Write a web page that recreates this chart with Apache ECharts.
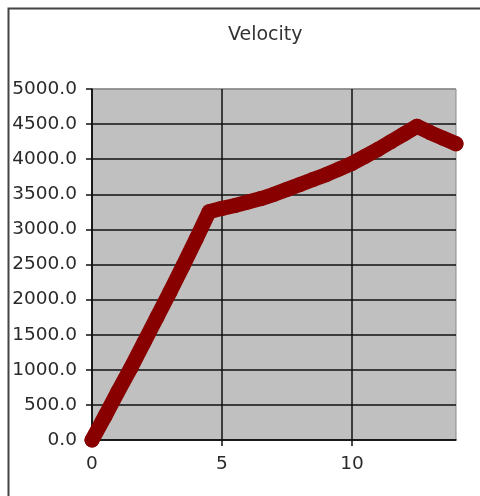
<!DOCTYPE html>
<html>
<head>
<meta charset="utf-8">
<script src="https://cdn.jsdelivr.net/npm/echarts@6/dist/echarts.min.js"></script>
<style>
html,body{margin:0;padding:0;background:#fff;}
#c{width:480px;height:496px;}
</style>
</head>
<body>
<div id="c"></div>
<script>
var title = 'Velocity';
var times = [0, 0.5, 1, 1.5, 2, 2.5, 3, 3.5, 4, 4.5, 5, 5.5, 6, 6.5, 7, 7.5, 8, 8.5, 9, 9.5, 10, 10.5, 11, 11.5, 12, 12.5, 13, 13.5, 14];
var velocity = [0, 340, 690, 1030, 1390, 1750, 2110, 2480, 2860, 3250, 3300, 3340, 3390, 3440, 3500, 3570, 3640, 3710, 3780, 3860, 3940, 4040, 4140, 4250, 4360, 4470, 4380, 4300, 4220];
var xTicks = [0, 5, 10];
var yMin = 0, yMax = 5000, yStep = 500;
var xMin = 0, xMax = 14;

var pts = times.map(function (t, i) { return [t, velocity[i]]; });
var FONT = 'DejaVu Sans';
var ySplitColors = [];
for (var v = yMin; v <= yMax; v += yStep) ySplitColors.push(v === yMax ? '#8a8a8a' : '#111');

var chart = echarts.init(document.getElementById('c'), null, {renderer: 'canvas'});
chart.setOption({
  backgroundColor: '#fff',
  animation: false,
  title: {
    text: title, left: 223, top: 21,
    textStyle: {fontFamily: FONT, fontSize: 19, fontWeight: 'normal', color: '#333'}
  },
  graphic: [{
    type: 'rect', left: 6, top: 6, z: -10,
    shape: {width: 600, height: 600},
    style: {fill: 'none', stroke: '#444', lineWidth: 2}
  }],
  grid: {
    left: 92, right: 24, top: 89, bottom: 56,
    show: true, backgroundColor: '#c0c0c0', borderColor: '#8a8a8a', borderWidth: 1
  },
  xAxis: {
    type: 'value', min: xMin, max: xMax,
    axisLine: {show: true, onZero: false, lineStyle: {color: '#111', width: 1.5}},
    axisTick: {show: true, length: 6, customValues: xTicks, lineStyle: {color: '#111', width: 1.5}},
    axisLabel: {customValues: xTicks, margin: 15, color: '#2a2a2a', fontFamily: FONT, fontSize: 18.5},
    splitLine: {show: true, lineStyle: {color: ['#111', '#111', '#111', '#8a8a8a'], width: 1.5}}
  },
  yAxis: {
    type: 'value', min: yMin, max: yMax, interval: yStep,
    axisLine: {show: true, lineStyle: {color: '#111', width: 1.5}},
    axisTick: {show: true, length: 6, lineStyle: {color: '#111', width: 1.5}},
    axisLabel: {
      margin: 15, color: '#2a2a2a', fontFamily: FONT, fontSize: 18.5,
      formatter: function (v) { return v.toFixed(1); }
    },
    splitLine: {show: true, lineStyle: {color: ySplitColors, width: 1.5}}
  },
  series: [{
    type: 'line',
    data: pts,
    clip: false,
    symbol: 'circle',
    symbolSize: 15,
    showAllSymbol: true,
    itemStyle: {color: '#880000'},
    lineStyle: {color: '#880000', width: 15, cap: 'round', join: 'round'},
    z: 5
  }]
});
</script>
</body>
</html>
